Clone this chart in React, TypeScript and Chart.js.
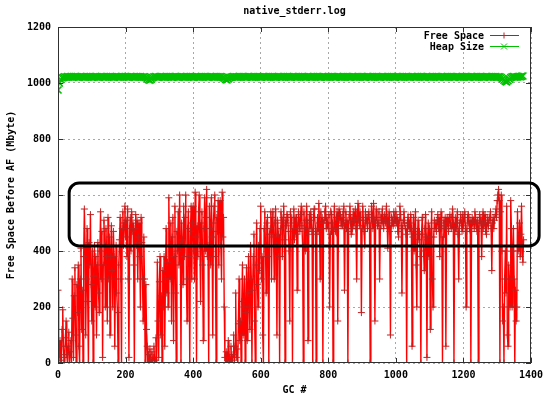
import React, { useEffect, useRef } from "react";
import { Chart, registerables } from "chart.js";

Chart.register(...registerables);

const TITLE = "native_stderr.log";
const X_TITLE = "GC #";
const Y_TITLE = "Free Space Before AF (Mbyte)";
const SERIES_NAMES = ["Free Space", "Heap Size"];
const X_TICKS = [0, 200, 400, 600, 800, 1000, 1200, 1400];
const Y_TICKS = [0, 200, 400, 600, 800, 1000, 1200];

// Free space before AF, one reading every 2 GCs (GC 0 .. 1378)
const FREE_STEP = 2;
const freeSpace = [
  260, 0, 30, 80, 10, 0, 120, 190, 60, 0, 20, 90, 150, 30, 0, 60, 110, 0, 40, 80,
  0, 300, 160, 20, 240, 340, 100, 0, 280, 180, 350, 60, 0, 300, 410, 120, 260, 0, 380, 550,
  420, 100, 300, 480, 220, 0, 430, 350, 530, 280, 150, 400, 0, 310, 420, 200, 380, 100, 350, 430,
  250, 180, 400, 540, 300, 470, 20, 350, 510, 420, 200, 480, 380, 150, 520, 300, 450, 100, 380, 490,
  330, 200, 470, 380, 60, 300, 420, 250, 180, 0, 350, 440, 520, 300, 0, 480, 540, 420, 500, 560,
  450, 510, 380, 550, 300, 20, 480, 520, 400, 540, 470, 500, 350, 0, 480, 530, 420, 510, 300, 450,
  500, 380, 200, 520, 430, 300, 150, 450, 300, 0, 280, 120, 60, 0, 30, 0, 50, 10, 0, 40,
  0, 20, 60, 0, 10, 90, 0, 360, 150, 20, 290, 380, 100, 240, 0, 330, 200, 380, 60, 300,
  480, 250, 360, 200, 590, 420, 300, 500, 150, 450, 520, 80, 380, 560, 250, 0, 470, 400, 540, 350,
  600, 420, 0, 500, 440, 280, 560, 380, 520, 600, 300, 150, 480, 540, 380, 0, 470, 560, 300, 500,
  560, 400, 300, 610, 450, 0, 490, 380, 540, 600, 420, 220, 500, 540, 350, 80, 480, 590, 400, 520,
  620, 380, 420, 0, 560, 480, 350, 590, 450, 100, 500, 560, 600, 380, 0, 520, 470, 580, 350, 540,
  580, 420, 300, 610, 450, 520, 200, 20, 0, 40, 0, 10, 80, 0, 20, 0, 60, 0, 10, 30,
  100, 0, 60, 250, 20, 50, 0, 140, 300, 80, 150, 0, 220, 350, 100, 200, 300, 0, 180, 340,
  80, 250, 380, 200, 120, 420, 300, 0, 260, 380, 460, 150, 0, 350, 500, 280, 200, 420, 330, 480,
  560, 300, 380, 100, 0, 480, 540, 420, 250, 500, 520, 380, 0, 460, 480, 540, 300, 520, 540, 450,
  300, 500, 550, 420, 100, 510, 460, 380, 0, 480, 540, 500, 380, 520, 560, 440, 0, 510, 490, 530,
  520, 470, 400, 150, 540, 500, 520, 0, 480, 550, 440, 520, 460, 520, 260, 480, 540, 500, 470, 530,
  560, 490, 420, 0, 540, 480, 400, 510, 560, 500, 80, 460, 530, 480, 540, 510, 470, 0, 520, 550,
  550, 480, 0, 460, 520, 470, 570, 500, 300, 540, 480, 520, 0, 500, 510, 540, 560, 480, 520, 500,
  480, 530, 200, 460, 540, 530, 500, 0, 470, 560, 480, 470, 520, 540, 150, 480, 550, 510, 530, 490,
  520, 490, 540, 560, 260, 500, 540, 480, 510, 0, 470, 530, 560, 500, 460, 520, 480, 540, 490, 510,
  550, 480, 300, 520, 570, 510, 490, 540, 520, 180, 480, 560, 510, 470, 420, 540, 500, 520, 480, 530,
  540, 500, 0, 480, 560, 520, 480, 570, 510, 150, 500, 550, 520, 490, 500, 540, 300, 480, 520, 510,
  550, 500, 480, 530, 510, 500, 560, 520, 410, 500, 540, 470, 100, 490, 520, 510, 490, 540, 520, 500,
  540, 500, 520, 470, 450, 510, 560, 530, 490, 250, 480, 510, 540, 500, 480, 460, 0, 500, 520, 490,
  500, 470, 530, 480, 60, 450, 520, 400, 480, 540, 350, 200, 460, 510, 440, 470, 380, 0, 460, 520,
  520, 400, 330, 480, 530, 450, 20, 440, 500, 380, 480, 120, 450, 540, 300, 200, 450, 510, 480, 500,
  470, 510, 530, 480, 520, 380, 500, 540, 480, 0, 450, 510, 490, 520, 60, 480, 520, 500, 470, 520,
  530, 490, 480, 520, 550, 500, 0, 480, 520, 470, 500, 540, 460, 300, 480, 510, 530, 500, 470, 530,
  490, 520, 540, 480, 200, 470, 520, 530, 500, 480, 510, 0, 470, 520, 500, 510, 480, 540, 520, 500,
  470, 510, 0, 480, 530, 500, 520, 380, 500, 540, 480, 500, 530, 470, 460, 500, 520, 490, 510, 520,
  540, 480, 330, 500, 520, 480, 510, 530, 550, 520, 580, 600, 620, 580, 0, 540, 600, 400, 150, 200,
  0, 300, 400, 250, 560, 100, 60, 350, 300, 200, 580, 480, 200, 400, 480, 300, 0, 260, 150, 200,
  540, 400, 420, 500, 380, 460, 560, 420, 360, 440,
];

// Heap size, one reading every 4 GCs (GC 0 .. 1376)
const HEAP_STEP = 4;
const heapSize = [
  975, 1000, 1012, 1018, 1020, 1022, 1021, 1023, 1022, 1022, 1023, 1021, 1022, 1023, 1022, 1021, 1022, 1023, 1022, 1022,
  1021, 1023, 1022, 1022, 1023, 1021, 1022, 1022, 1023, 1022, 1021, 1022, 1023, 1022, 1022, 1021, 1023, 1022, 1022, 1023,
  1022, 1021, 1022, 1023, 1022, 1022, 1021, 1023, 1022, 1022, 1023, 1022, 1021, 1022, 1023, 1022, 1022, 1021, 1023, 1022,
  1022, 1023, 1021, 1022, 1022, 1020, 1016, 1012, 1010, 1014, 1019, 1022, 1023, 1022, 1021, 1022, 1023, 1022, 1022, 1021,
  1023, 1022, 1022, 1023, 1021, 1022, 1022, 1023, 1022, 1021, 1022, 1023, 1022, 1022, 1021, 1023, 1022, 1022, 1023, 1022,
  1021, 1022, 1023, 1022, 1022, 1021, 1023, 1022, 1022, 1023, 1022, 1021, 1022, 1023, 1022, 1022, 1021, 1023, 1022, 1022,
  1023, 1022, 1020, 1017, 1013, 1011, 1015, 1019, 1021, 1022, 1023, 1022, 1022, 1021, 1023, 1022, 1022, 1023, 1022, 1021,
  1022, 1023, 1022, 1022, 1021, 1023, 1022, 1022, 1023, 1022, 1021, 1022, 1023, 1022, 1022, 1021, 1023, 1022, 1022, 1023,
  1022, 1021, 1022, 1023, 1022, 1022, 1021, 1023, 1022, 1022, 1023, 1022, 1021, 1022, 1023, 1022, 1022, 1021, 1023, 1022,
  1022, 1023, 1022, 1021, 1022, 1023, 1022, 1022, 1021, 1023, 1022, 1022, 1023, 1022, 1021, 1022, 1023, 1022, 1022, 1021,
  1023, 1022, 1022, 1023, 1022, 1021, 1022, 1023, 1022, 1022, 1021, 1023, 1022, 1022, 1023, 1022, 1021, 1022, 1023, 1022,
  1022, 1021, 1023, 1022, 1022, 1023, 1022, 1021, 1022, 1023, 1022, 1022, 1021, 1023, 1022, 1022, 1023, 1022, 1021, 1022,
  1023, 1022, 1022, 1021, 1023, 1022, 1022, 1023, 1022, 1021, 1022, 1023, 1022, 1022, 1021, 1023, 1022, 1022, 1023, 1022,
  1021, 1022, 1023, 1022, 1022, 1021, 1023, 1022, 1022, 1023, 1022, 1021, 1022, 1023, 1022, 1022, 1021, 1023, 1022, 1022,
  1023, 1022, 1021, 1022, 1023, 1022, 1022, 1021, 1023, 1022, 1022, 1023, 1022, 1021, 1022, 1023, 1022, 1022, 1021, 1023,
  1022, 1022, 1023, 1022, 1021, 1022, 1023, 1022, 1022, 1021, 1023, 1022, 1022, 1023, 1022, 1021, 1022, 1023, 1022, 1022,
  1021, 1023, 1022, 1022, 1023, 1021, 1022, 1022, 1019, 1015, 1010, 1006, 1004, 1008, 1014, 1019, 1022, 1023, 1022, 1021,
  1022, 1023, 1022, 1024, 1025,
];

// Highlight box, in data units
const HIGHLIGHT = { x0: 33, x1: 1424, y0: 418, y1: 643 };

const FONT_FAMILY = "'DejaVu Sans Mono', monospace";
const FONT = "bold 10px " + FONT_FAMILY;
const RED = "#ff0000";
const RED_MARK = "#c02020";
const GREEN = "#00c000";

function drawMarker(ctx: CanvasRenderingContext2D, style: string, x: number, y: number, r: number) {
  ctx.beginPath();
  if (style === "cross") {
    ctx.moveTo(x - r, y);
    ctx.lineTo(x + r, y);
    ctx.moveTo(x, y - r);
    ctx.lineTo(x, y + r);
  } else {
    ctx.moveTo(x - r, y - r);
    ctx.lineTo(x + r, y + r);
    ctx.moveTo(x - r, y + r);
    ctx.lineTo(x + r, y - r);
  }
  ctx.stroke();
}

const gnuplotPlugin = {
  id: "gnuplotFrame",
  afterDatasetsDraw(chart: any) {
    const { ctx, chartArea: a, scales } = chart;
    const xs = scales.x;
    const ys = scales.y;
    ctx.save();

    // frame
    ctx.strokeStyle = "#303030";
    ctx.lineWidth = 1;
    ctx.setLineDash([]);
    ctx.strokeRect(Math.round(a.left) + 0.5, Math.round(a.top) + 0.5,
      Math.round(a.right - a.left) - 1, Math.round(a.bottom - a.top) - 1);

    // inward tick marks on all sides
    ctx.beginPath();
    X_TICKS.forEach((v) => {
      const px = Math.round(xs.getPixelForValue(v)) + 0.5;
      ctx.moveTo(px, a.bottom);
      ctx.lineTo(px, a.bottom - 5);
      ctx.moveTo(px, a.top);
      ctx.lineTo(px, a.top + 5);
    });
    Y_TICKS.forEach((v) => {
      const py = Math.round(ys.getPixelForValue(v)) + 0.5;
      ctx.moveTo(a.left, py);
      ctx.lineTo(a.left + 5, py);
      ctx.moveTo(a.right, py);
      ctx.lineTo(a.right - 5, py);
    });
    ctx.stroke();

    // highlight box
    const l = xs.getPixelForValue(HIGHLIGHT.x0);
    const r = xs.getPixelForValue(HIGHLIGHT.x1);
    const t = ys.getPixelForValue(HIGHLIGHT.y1);
    const b = ys.getPixelForValue(HIGHLIGHT.y0);
    ctx.strokeStyle = "#000000";
    ctx.lineWidth = 3;
    ctx.beginPath();
    ctx.roundRect(l, t, r - l, b - t, 10);
    ctx.stroke();

    // title
    ctx.font = FONT;
    ctx.fillStyle = "#000000";
    ctx.textAlign = "center";
    ctx.textBaseline = "middle";
    ctx.fillText(TITLE, (a.left + a.right) / 2, 11);

    // legend
    ctx.textAlign = "right";
    chart.data.datasets.forEach((ds: any, i: number) => {
      const y = a.top + 9 + i * 11;
      ctx.fillStyle = "#000000";
      ctx.fillText(ds.label, a.right - 47, y + 0.5);
      ctx.strokeStyle = ds.borderColor;
      ctx.lineWidth = 1;
      ctx.beginPath();
      ctx.moveTo(a.right - 41, Math.round(y) - 0.5);
      ctx.lineTo(a.right - 12, Math.round(y) - 0.5);
      ctx.stroke();
      ctx.strokeStyle = ds.pointBorderColor;
      drawMarker(ctx, ds.pointStyle, a.right - 27, Math.round(y) - 0.5, 3);
    });

    ctx.restore();
  },
};

export default function App() {
  const canvasRef = useRef<HTMLCanvasElement | null>(null);

  useEffect(() => {
    if (!canvasRef.current) return;
    const freePoints = freeSpace.map((v, i) => ({ x: i * FREE_STEP, y: v }));
    const heapPoints = heapSize.map((v, i) => ({ x: i * HEAP_STEP, y: v }));

    const gridCommon = {
      color: "#a8a8a8",
      lineWidth: 1,
      drawTicks: false,
    };
    const tickFont = { family: FONT_FAMILY, size: 10, weight: "bold" };
    const titleFont = { family: FONT_FAMILY, size: 10, weight: "bold", lineHeight: 1.2 };

    const chart = new Chart(canvasRef.current, {
      type: "line",
      data: {
        datasets: [
          {
            label: SERIES_NAMES[0],
            data: freePoints,
            borderColor: RED,
            backgroundColor: RED,
            borderWidth: 1.4,
            pointStyle: "cross",
            pointRadius: 3.5,
            pointBorderWidth: 1,
            pointBorderColor: RED_MARK,
            tension: 0,
          },
          {
            label: SERIES_NAMES[1],
            data: heapPoints,
            borderColor: GREEN,
            backgroundColor: GREEN,
            borderWidth: 1,
            pointStyle: "crossRot",
            pointRadius: 5,
            pointBorderWidth: 1.6,
            pointBorderColor: GREEN,
            tension: 0,
          },
        ],
      },
      options: {
        responsive: false,
        animation: false,
        events: [],
        layout: { padding: { top: 27, right: 23, left: 0, bottom: 0 } },
        plugins: {
          legend: { display: false },
          title: { display: false },
          tooltip: { enabled: false },
        },
        scales: {
          x: {
            type: "linear",
            min: 0,
            max: 1400,
            afterBuildTicks: (s: any) => {
              s.ticks = X_TICKS.map((v) => ({ value: v }));
            },
            afterFit: (s: any) => {
              s.height = 33;
            },
            grid: { ...gridCommon },
            border: { display: false, dash: [2, 3] },
            ticks: {
              padding: 6,
              color: "#000000",
              maxRotation: 0,
              autoSkip: false,
              font: tickFont,
              callback: (v: any) => String(v),
            },
            title: {
              display: true,
              text: X_TITLE,
              color: "#000000",
              padding: { top: 0, bottom: 0 },
              font: titleFont,
            },
          },
          y: {
            type: "linear",
            min: 0,
            max: 1200,
            afterBuildTicks: (s: any) => {
              s.ticks = Y_TICKS.map((v) => ({ value: v }));
            },
            afterFit: (s: any) => {
              s.width = 58;
            },
            grid: { ...gridCommon },
            border: { display: false, dash: [2, 3] },
            ticks: {
              padding: 7,
              color: "#000000",
              autoSkip: false,
              font: tickFont,
              callback: (v: any) => String(v),
            },
            title: {
              display: true,
              text: Y_TITLE,
              color: "#000000",
              padding: { top: 5, bottom: 0 },
              font: titleFont,
            },
          },
        },
      } as any,
      plugins: [gnuplotPlugin],
    });

    return () => {
      chart.destroy();
    };
  }, []);

  return (
    <div style={{ position: "absolute", left: 0, top: 0, width: 554, height: 396, background: "#ffffff" }}>
      <canvas ref={canvasRef} width={554} height={396} style={{ display: "block" }} />
    </div>
  );
}
